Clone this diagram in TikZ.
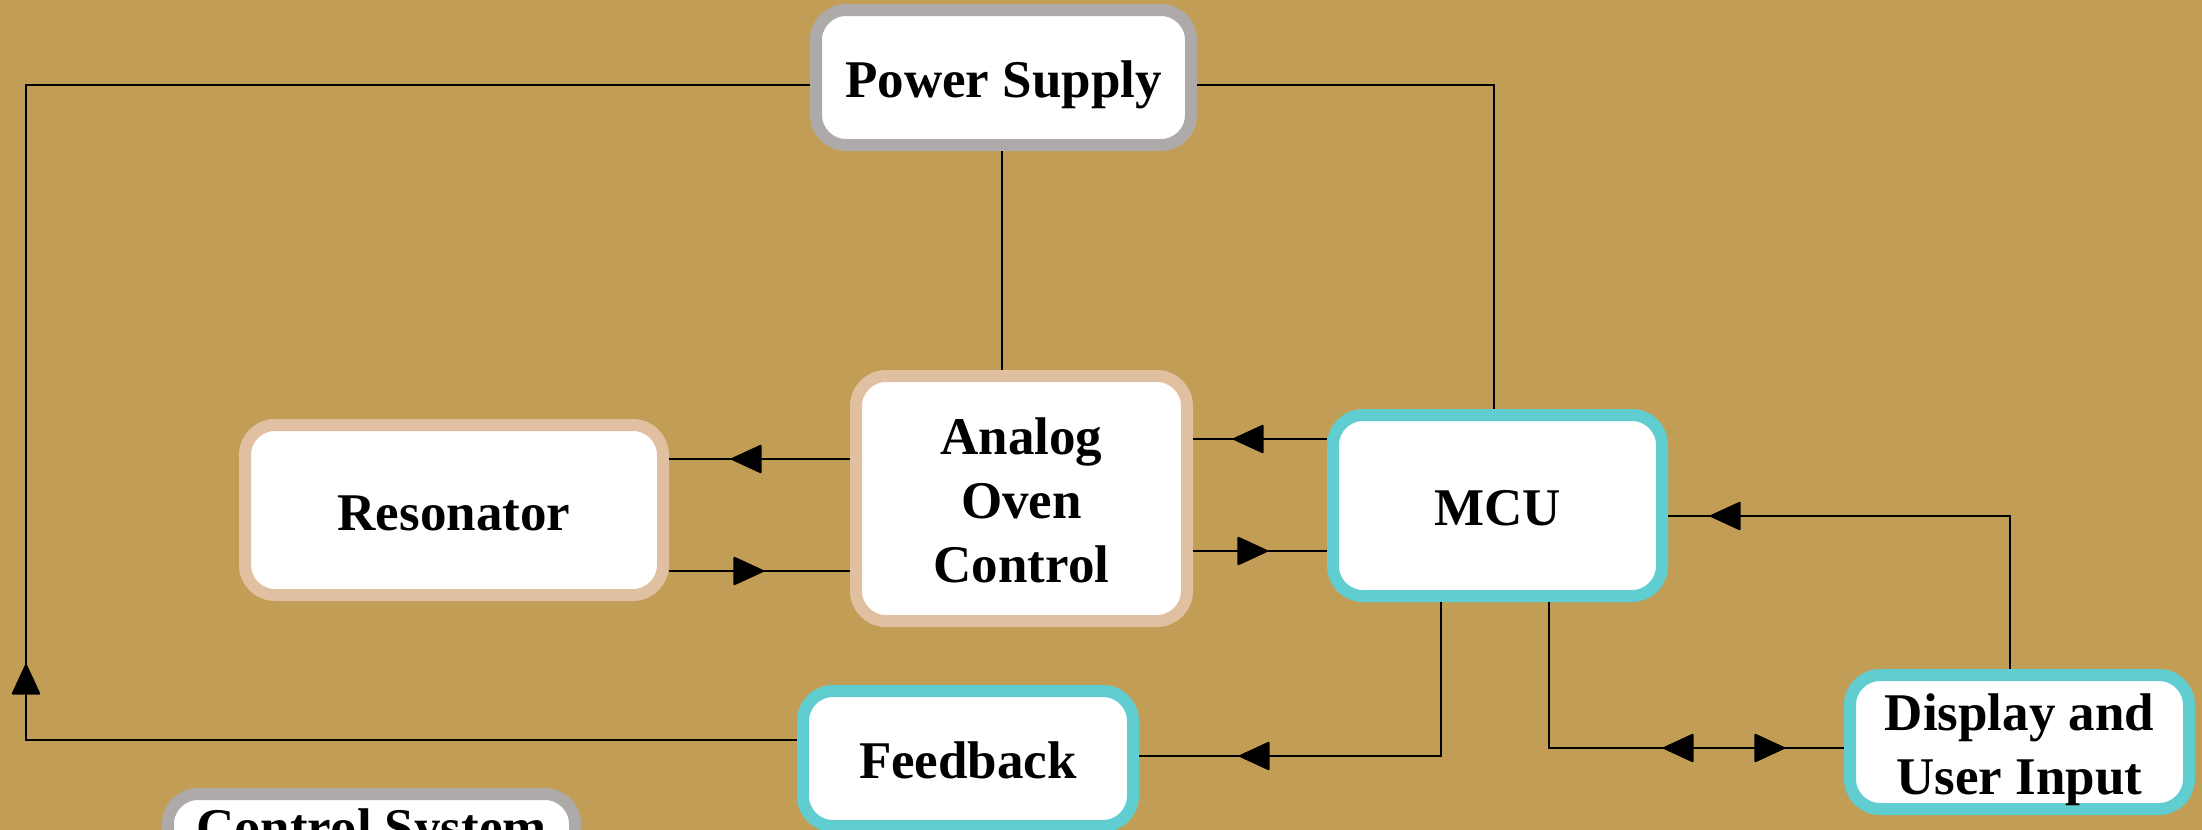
\documentclass[tikz,border=0pt]{standalone}
\usepackage{fontspec}
\setmainfont{Liberation Serif}
\usetikzlibrary{arrows.meta,decorations.markings}

\definecolor{bgtan}{HTML}{C29D56}
\definecolor{rimgray}{HTML}{AEAAA9}
\definecolor{rimbeige}{HTML}{E0C0A0}
\definecolor{rimcyan}{HTML}{60CDD0}

\tikzset{
  block/.style={draw=#1, fill=white, line width=6pt, rounded corners=15pt,
    inner sep=0pt, align=center, text height=20pt, text depth=0pt,
    font=\fontsize{26.5pt}{32pt}\selectfont\bfseries},
  twolines/.style={text height=52pt},
  threelines/.style={text height=84pt},
  wire/.style={line width=1pt, black},
  tri/.tip={Triangle[length=16pt, width=14.5pt, round]},
  tipat/.style={postaction={decorate, decoration={markings,
    mark=at position #1 with {\arrow{tri}}}}},
  backtipat/.style={postaction={decorate, decoration={markings,
    mark=at position #1 with {\arrowreversed{tri}}}}},
}

\begin{document}
\begin{tikzpicture}[x=0.5pt, y=-0.5pt]
  \useasboundingbox (0,0) rectangle (2202,830);
  \clip (0,0) rectangle (2202,830);
  \fill[bgtan] (0,0) rectangle (2202,830);

  % blocks
  \node[block=rimgray, minimum width=187.5pt, minimum height=67.5pt] (ps) at (1003.5,77.5) {Power Supply};
  \node[block=rimbeige, threelines, minimum width=165.5pt, minimum height=122.5pt] (ana) at (1021.5,498.5) {Analog\\Oven\\Control};
  \node[block=rimbeige, minimum width=209pt, minimum height=85pt] (res) at (454,510) {Resonator};
  \node[block=rimcyan, minimum width=164.5pt, minimum height=90.5pt] (mcu) at (1497.5,505.5) {MCU};
  \node[block=rimcyan, twolines, minimum width=169.5pt, minimum height=67pt] (disp) at (2019.5,742) {Display and\\User Input};
  \node[block=rimcyan, minimum width=165pt, minimum height=67.5pt] (fb) at (968,758.5) {Feedback};
  \node[block=rimgray, text height=0pt, minimum width=203.5pt, minimum height=67.5pt] (ctl) at (371.5,861.5) {\smash{\raisebox{8.25pt}{Control System}}};

  % routing levels and corners
  \coordinate (rail) at (26,85);
  \coordinate (railbot) at (26,740);
  \coordinate (psright) at (1494,85);
  \coordinate (lvlAR) at (0,459);
  \coordinate (lvlRA) at (0,571);
  \coordinate (lvlMA) at (0,439);
  \coordinate (lvlAM) at (0,551);
  \coordinate (lvlDM) at (0,516);
  \coordinate (dispx) at (2010,0);
  \coordinate (fbx) at (1441,756);
  \coordinate (dpx) at (1549,748);

  % supply distribution and feedback loop
  \draw[wire, tipat=423.5pt] (fb.west |- railbot) -- (railbot) -- (rail) -- (ps.west |- rail);
  \draw[wire] (ps.east |- rail) -- (psright) -- (psright |- mcu.north);
  \draw[wire] (ps.south -| 1002,0) -- (ana.north -| 1002,0);

  % analog oven control <-> resonator
  \draw[wire, tipat=59.5pt] (ana.west |- lvlAR) -- (res.east |- lvlAR);
  \draw[wire, tipat=47.5pt] (res.east |- lvlRA) -- (ana.west |- lvlRA);

  % MCU <-> analog oven control
  \draw[wire, tipat=47pt] (mcu.west |- lvlMA) -- (ana.east |- lvlMA);
  \draw[wire, tipat=37.5pt] (ana.east |- lvlAM) -- (mcu.west |- lvlAM);

  % display / user input to MCU
  \draw[wire, tipat=226.5pt] (dispx |- disp.north) -- (dispx |- lvlDM) -- (mcu.east |- lvlDM);

  % MCU to feedback
  \draw[wire, tipat=178pt] (fbx |- mcu.south) -- (fbx) -- (fb.east |- fbx);

  % MCU <-> display bus
  \draw[wire, backtipat=130pt, tipat=191pt] (dpx |- mcu.south) -- (dpx) -- (disp.west |- dpx);
\end{tikzpicture}
\end{document}
